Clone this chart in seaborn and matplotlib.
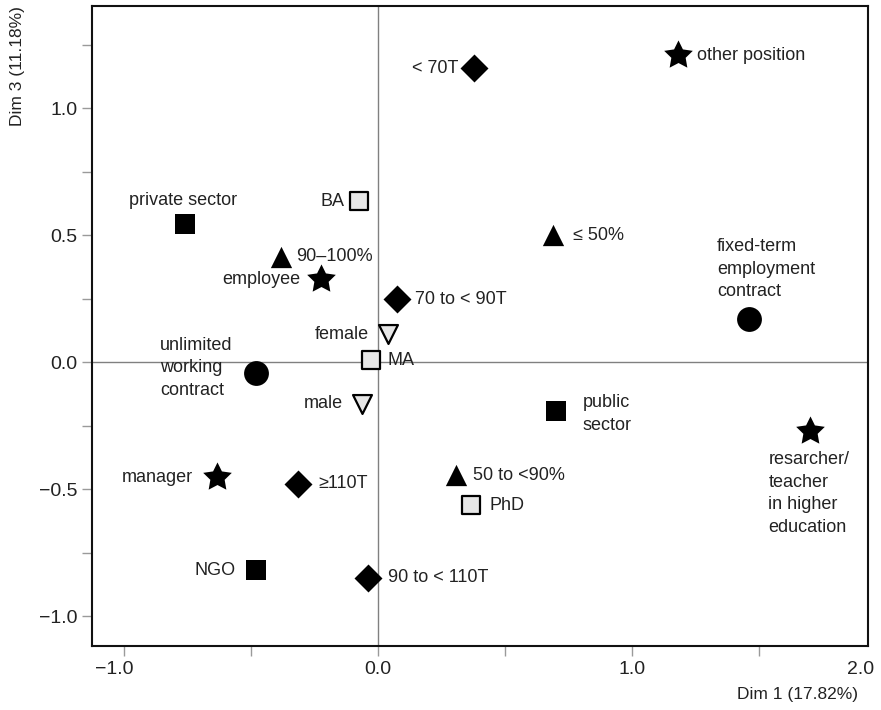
import numpy as np
import pandas as pd
import matplotlib
matplotlib.use("Agg")
import matplotlib.pyplot as plt
import matplotlib.transforms as mtransforms
from matplotlib.path import Path
import seaborn as sns

# Category labels of the MCA map
labels = [
    "< 70T", "70 to < 90T", "90 to < 110T", "\u2265110T",
    "other position", "employee", "manager", "resarcher/\nteacher\nin higher\neducation",
    "BA", "MA", "PhD",
    "private sector", "public\nsector", "NGO",
    "\u2264 50%", "50 to <90%", "90\u2013100%",
    "fixed-term\nemployment\ncontract", "unlimited\nworking\ncontract",
    "female", "male",
]
# Coordinates on dimension 1 and dimension 3
dim1 = [0.378, 0.074, -0.038, -0.314,
        1.181, -0.224, -0.634, 1.701,
        -0.076, -0.028, 0.366,
        -0.760, 0.700, -0.480,
        0.689, 0.307, -0.382,
        1.461, -0.481,
        0.039, -0.063]
dim3 = [1.157, 0.248, -0.849, -0.479,
        1.209, 0.327, -0.453, -0.272,
        0.634, 0.008, -0.563,
        0.543, -0.193, -0.819,
        0.500, -0.445, 0.415,
        0.169, -0.042,
        0.110, -0.165]
variable = (["income"] * 4 + ["position"] * 4 + ["degree"] * 3 + ["sector"] * 3
            + ["workload"] * 3 + ["contract"] * 2 + ["gender"] * 2)

x_ticks = [-1.0, -0.5, 0.0, 0.5, 1.0, 1.5]
x_ticklabels = ["\u22121.0", "", "0.0", "", "1.0", ""]
y_ticks = [-1.0, -0.75, -0.5, -0.25, 0.0, 0.25, 0.5, 0.75, 1.0, 1.25]
y_ticklabels = ["\u22121.0", "", "\u22120.5", "", "0.0", "", "0.5", "", "1.0", ""]
x_title = "Dim 1 (17.82%)"
y_title = "Dim 3 (11.18%)"

df = pd.DataFrame({"label": labels, "dim1": dim1, "dim3": dim3, "variable": variable})

# Marker style for each variable
star = Path.unit_regular_star(5, 0.5)
LIGHT = "#e6e6e6"
styles = {
    "income":   dict(marker="D", s=203, color="black", linewidth=0),
    "position": dict(marker=star, s=470, color="black", linewidth=0),
    "degree":   dict(marker="s", s=180, color=LIGHT, linewidth=1.6),
    "sector":   dict(marker="s", s=205, color="black", linewidth=0),
    "workload": dict(marker="^", s=235, color="black", linewidth=0),
    "contract": dict(marker="o", s=320, color="black", linewidth=0),
    "gender":   dict(marker="v", s=185, color=LIGHT, linewidth=1.6),
}

# Label placement: offset in points from the marker and alignment
placement = {
    "< 70T": (-11.5, 0, "right"),
    "70 to < 90T": (13, 0, "left"),
    "90 to < 110T": (14.4, 0, "left"),
    "\u2265110T": (14.4, 0, "left"),
    "other position": (13.7, 0, "left"),
    "employee": (-15, 0, "right"),
    "manager": (-17, 0, "right"),
    "resarcher/\nteacher\nin higher\neducation": (-30, -45, "left"),
    "BA": (-10, 0, "right"),
    "MA": (12, 0, "left"),
    "PhD": (13.7, 0, "left"),
    "private sector": (-1, 17, "center"),
    "public\nsector": (19.4, -2, "left"),
    "NGO": (-15, 0, "right"),
    "\u2264 50%": (14.4, 0, "left"),
    "50 to <90%": (12, 0, "left"),
    "90\u2013100%": (11, 0, "left"),
    "fixed-term\nemployment\ncontract": (-23, 36, "left"),
    "unlimited\nworking\ncontract": (-69, 3.6, "left"),
    "female": (-13.7, 0, "right"),
    "male": (-13.7, 0, "right"),
}

sns.set_theme(style="white")
plt.rcParams["font.family"] = ["Liberation Sans", "DejaVu Sans"]
TEXT = "#222222"
FS = 13
FS_TICK = 14
FS_TITLE = 12.5

fig = plt.figure(figsize=(8.81, 7.10), dpi=100)
ax = fig.add_axes([0.1044, 0.0901, 0.8808, 0.9014])

xmin, xmax = -1.126, 1.929
ymin, ymax = -1.118, 1.402

ax.axhline(0, color="#808080", lw=1.0, zorder=1)
ax.axvline(0, color="#808080", lw=1.0, zorder=1)

for var, st in styles.items():
    sub = df[df["variable"] == var]
    sns.scatterplot(data=sub, x="dim1", y="dim3", ax=ax, marker=st["marker"],
                    s=st["s"], color=st["color"], edgecolor="black",
                    linewidth=st["linewidth"], zorder=3, legend=False)

for _, row in df.iterrows():
    dx, dy, ha = placement[row["label"]]
    ax.annotate(row["label"], (row["dim1"], row["dim3"]), xytext=(dx, dy),
                textcoords="offset points", ha=ha, va="center",
                fontsize=FS, color=TEXT, linespacing=1.42, zorder=4)

ax.set_xlim(xmin, xmax)
ax.set_ylim(ymin, ymax)
ax.set_xticks(x_ticks + [xmax])
ax.set_xticklabels(x_ticklabels + ["2.0"])
ax.set_yticks(y_ticks)
ax.set_yticklabels(y_ticklabels)
ax.set_xlabel("")
ax.set_ylabel("")
ax.tick_params(axis="both", which="major", direction="out", length=7.5, width=1,
               color="#9a9a9a", labelsize=FS_TICK, labelcolor=TEXT, pad=3,
               bottom=True, left=True)
# last x tick only carries the end label
xt = ax.xaxis.get_major_ticks()
xt[-1].tick1line.set_visible(False)
lbls = ax.get_xticklabels()
lbls[0].set_transform(lbls[0].get_transform() +
                      mtransforms.ScaledTranslation(-7 / 72, 0, fig.dpi_scale_trans))
lbls[-1].set_transform(lbls[-1].get_transform() +
                       mtransforms.ScaledTranslation(-5 / 72, 0, fig.dpi_scale_trans))

for sp in ax.spines.values():
    sp.set_visible(True)
    sp.set_color("#111111")
    sp.set_linewidth(1.5)

fig.text(858 / 881, 1 - 694 / 710, x_title, ha="right", va="center",
         fontsize=FS_TITLE, color=TEXT)
fig.text(18 / 881, 1 - 6 / 710, y_title, ha="center", va="top", rotation=90,
         fontsize=FS_TITLE, color=TEXT)

fig.savefig("out.png", dpi=100)
